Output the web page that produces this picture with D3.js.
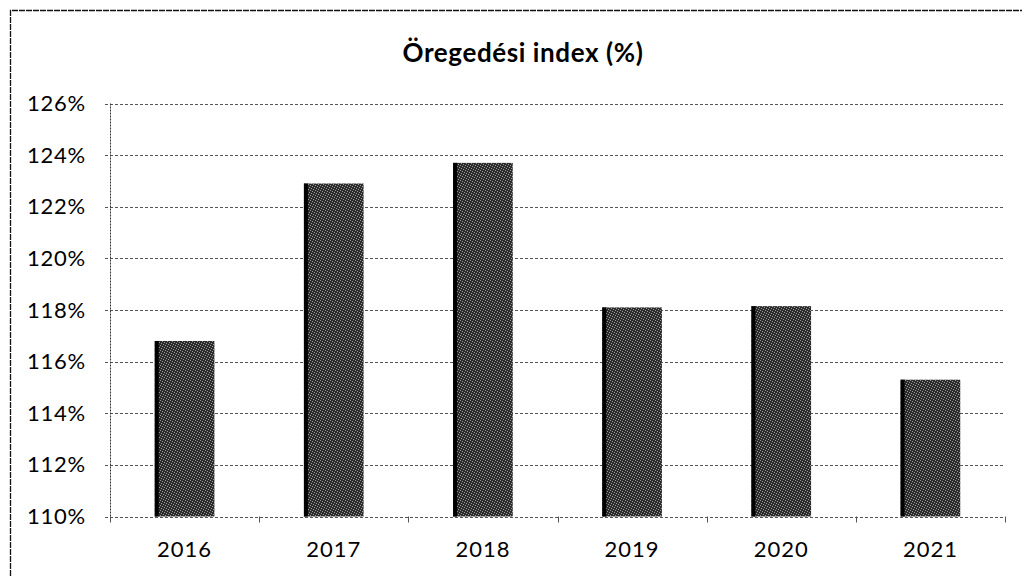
<!DOCTYPE html>
<html><head><meta charset="utf-8">
<script src="https://cdn.jsdelivr.net/npm/d3@7"></script>
<style>body{margin:0;background:#fff;}svg{display:block;}</style>
</head><body>
<svg id="c" width="1026" height="576"></svg>
<script>
const title = "Öregedési index (%)";
const years = ["2016","2017","2018","2019","2020","2021"];
const values = [116.8, 122.9, 123.7, 118.1, 118.15, 115.3];
const yTicks = [110,112,114,116,118,120,122,124,126];

const svg = d3.select("#c");
const m = {left:110, right:1005, top:103.5, bottom:516.5};
const x = d3.scaleBand().domain(years).range([m.left, m.right]).paddingInner(0.6).paddingOuter(0.3);
const y = d3.scaleLinear().domain([110,126]).range([m.bottom, m.top]);
const font = "Lato, 'Open Sans', sans-serif";

// texture pattern for bars
const defs = svg.append("defs");
const pat = defs.append("pattern").attr("id","tex").attr("patternUnits","userSpaceOnUse")
  .attr("width",5).attr("height",5);
pat.append("rect").attr("width",5).attr("height",5).attr("fill","#2c2c2c");
[[0,0],[2,1],[4,2],[1,3],[3,4]].forEach(p=>{
  pat.append("rect").attr("x",p[0]).attr("y",p[1]).attr("width",1).attr("height",1).attr("fill","#9a9a9a");
});

// chart border (left & top)
svg.append("path").attr("d","M10.5,576 V10.5 H1022").attr("fill","none")
  .attr("stroke","#111").attr("stroke-width",1.3).attr("stroke-dasharray","6,1");

svg.append("text").attr("x",523).attr("y",62).attr("text-anchor","middle")
  .attr("font-family",font).attr("font-weight","bold").attr("font-size",26)
  .attr("letter-spacing",0.6).attr("fill","#000").text(title);

// gridlines
svg.append("g").selectAll("line").data(yTicks).join("line")
  .attr("x1",m.left-5).attr("x2",m.right).attr("y1",d=>Math.round(y(d))+0.5).attr("y2",d=>Math.round(y(d))+0.5)
  .attr("stroke","#555").attr("stroke-width",1).attr("stroke-dasharray","3,2");

// y axis labels
const yAxis = d3.axisLeft(y).tickValues(yTicks).tickFormat(d=>d+"%").tickSize(0).tickPadding(24);
const gy = svg.append("g").attr("transform",`translate(${m.left},0)`).call(yAxis);
gy.select(".domain").remove();
gy.selectAll("text").attr("font-family",font).attr("font-size",22).attr("letter-spacing",0.8).attr("fill","#000");
svg.append("line").attr("x1",m.left+0.5).attr("x2",m.left+0.5).attr("y1",m.top).attr("y2",m.bottom+5)
  .attr("stroke","#333").attr("stroke-dasharray","2,1");

// bars
const bars = svg.append("g").selectAll("g").data(years).join("g");
bars.append("rect").attr("x",d=>x(d)).attr("width",x.bandwidth())
  .attr("y",(d,i)=>y(values[i])).attr("height",(d,i)=>y(110)-y(values[i])).attr("fill","url(#tex)");
bars.append("rect").attr("x",d=>x(d)).attr("width",4)
  .attr("y",(d,i)=>y(values[i])).attr("height",(d,i)=>y(110)-y(values[i])).attr("fill","#000");

// x axis
const bounds = d3.range(years.length+1).map(i=>m.left + i*(m.right-m.left)/years.length);
svg.append("g").selectAll("line").data(bounds).join("line")
  .attr("x1",d=>Math.round(d)+0.5).attr("x2",d=>Math.round(d)+0.5).attr("y1",m.bottom).attr("y2",m.bottom+6)
  .attr("stroke","#555");
const xAxis = d3.axisBottom(x).tickSize(0).tickPadding(25);
const gx = svg.append("g").attr("transform",`translate(0,${m.bottom})`).call(xAxis);
gx.select(".domain").remove();
gx.selectAll("text").attr("font-family",font).attr("font-size",22).attr("letter-spacing",1).attr("fill","#000");
</script>
</body></html>
